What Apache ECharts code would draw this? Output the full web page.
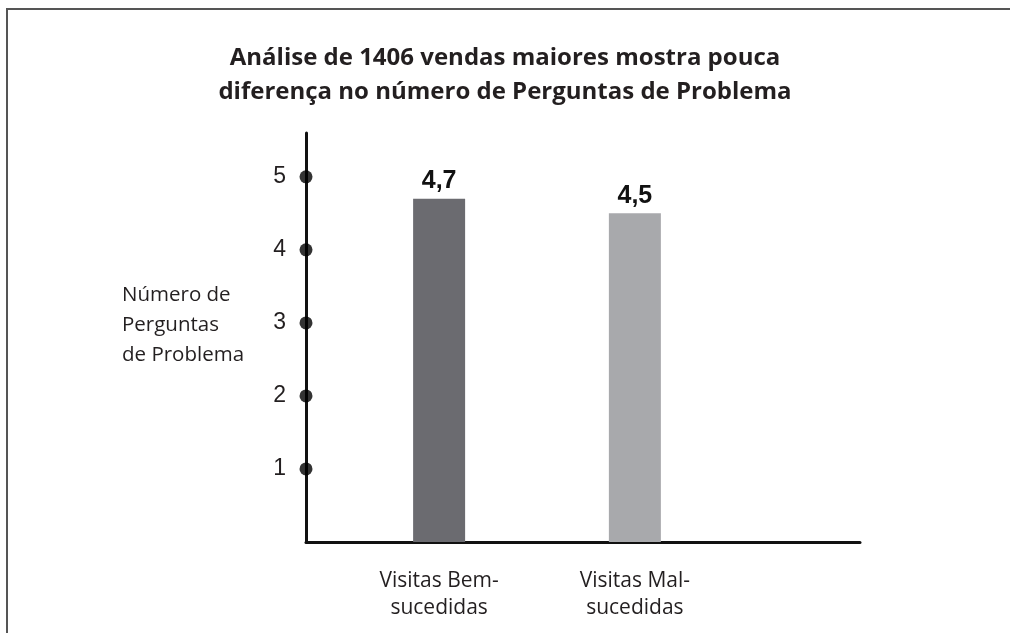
<!DOCTYPE html>
<html>
<head>
<meta charset="utf-8">
<script src="https://cdn.jsdelivr.net/npm/echarts@6/dist/echarts.min.js"></script>
<style>html,body{margin:0;padding:0;background:#fff}#c{width:1010px;height:633px}</style>
</head>
<body>
<div id="c"></div>
<script>
const titleText = 'Análise de 1406 vendas maiores mostra pouca\ndiferença no número de Perguntas de Problema';
const yAxisName = 'Número de\nPerguntas\nde Problema';
const categories = ['Visitas Bem-\nsucedidas', 'Visitas Mal-\nsucedidas'];
const values = [4.7, 4.5];
const barColors = ['#6b6b70', '#a8a9ac'];
const yTicks = [1, 2, 3, 4, 5];

const xMin = 0.32, xMax = 3.15;
const txt = '#231f20';

const chart = echarts.init(document.getElementById('c'), null, {renderer: 'canvas'});
chart.setOption({
  backgroundColor: '#fff',
  animation: false,
  title: [
    {text: titleText, left: 'center', top: 36,
     textStyle: {fontFamily: 'Open Sans', fontWeight: 'bold', fontSize: 24, lineHeight: 34, color: txt}},
    {text: yAxisName, left: 117, top: 275,
     textStyle: {fontFamily: 'Open Sans', fontWeight: 'normal', fontSize: 20.5, lineHeight: 30, color: txt}}
  ],
  graphic: [{
    type: 'polyline', silent: true,
    shape: {points: [[7, 633], [7, 9], [1010, 9]]},
    style: {stroke: '#555', lineWidth: 2, fill: null}
  }],
  grid: {left: 306, right: 1010 - 860, top: 133, bottom: 91, containLabel: false},
  xAxis: {
    type: 'value', min: xMin, max: xMax,
    axisLine: {show: true, onZero: false, lineStyle: {color: '#111', width: 3}},
    axisTick: {show: false},
    splitLine: {show: false},
    axisLabel: {
      customValues: categories.map((c, i) => i + 1),
      formatter: v => categories[Math.round(v) - 1] || '',
      margin: 26, fontFamily: 'Open Sans', fontSize: 21, lineHeight: 27, color: txt, align: 'center'
    }
  },
  yAxis: {
    type: 'value', min: 0, max: 5.6, interval: 1,
    axisLine: {show: true, onZero: false, lineStyle: {color: '#111', width: 3}},
    axisTick: {show: false},
    splitLine: {show: false},
    axisLabel: {
      formatter: v => yTicks.includes(v) ? String(v) : '',
      margin: 20, fontFamily: 'Liberation Sans', fontSize: 23, color: txt
    }
  },
  series: [
    {
      type: 'bar', barWidth: 52,
      data: values.map((v, i) => ({value: [i + 1, v], itemStyle: {color: barColors[i]}})),
      label: {show: true, position: 'top', distance: 5,
        formatter: p => String(p.value[1]).replace('.', ','),
        fontFamily: 'Liberation Sans', fontWeight: 'bold', fontSize: 25, color: '#111'}
    },
    {
      type: 'scatter', clip: false, symbol: 'circle', symbolSize: 13, z: 5,
      itemStyle: {color: '#000'},
      data: yTicks.map(v => [xMin, v])
    }
  ]
});
</script>
</body>
</html>
